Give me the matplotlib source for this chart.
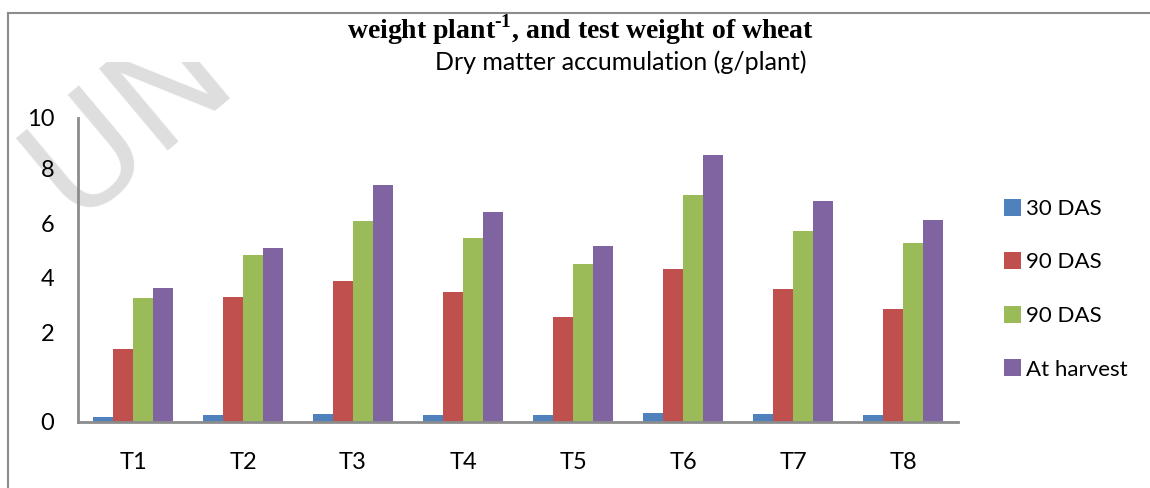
import numpy as np
import matplotlib
matplotlib.use("Agg")
import matplotlib.pyplot as plt
from matplotlib.lines import Line2D
from matplotlib.transforms import Bbox

treatments = ["T1", "T2", "T3", "T4", "T5", "T6", "T7", "T8"]
series_names = ["30 DAS", "90 DAS", "90 DAS", "At harvest"]
das30 = [0.16, 0.22, 0.25, 0.21, 0.21, 0.28, 0.25, 0.21]
das90a = [2.40, 4.10, 4.63, 4.27, 3.44, 5.02, 4.37, 3.71]
das90b = [4.07, 5.49, 6.61, 6.05, 5.19, 7.46, 6.28, 5.88]
harvest = [4.40, 5.72, 7.79, 6.90, 5.78, 8.78, 7.27, 6.64]
colors = ["#4F81BD", "#C0504D", "#9BBB59", "#8064A2"]

# y labels sit where they sit in the source image (not evenly spaced)
ytick_pos = [0.0, 2.92, 4.73, 6.51, 8.32, 10.0]
ytick_lab = ["0", "2", "4", "6", "8", "10"]

plt.rcParams["mathtext.fontset"] = "custom"
plt.rcParams["mathtext.rm"] = "Liberation Serif:bold"
plt.rcParams["mathtext.bf"] = "Liberation Serif:bold"

W, H = 1150, 488
fig = plt.figure(figsize=(W / 100, H / 100), dpi=100)
ax = fig.add_axes([78 / W, 1 - 421.5 / H, 880 / W, 303.5 / H])
ax.set_facecolor("none")

x = np.arange(len(treatments))
bw = 0.1818
allvals = [das30, das90a, das90b, harvest]
for i, vals in enumerate(allvals):
    ax.bar(x + (i - 1.5) * bw, vals, width=bw, color=colors[i], label=series_names[i], zorder=2)

ax.set_xlim(-0.5, len(treatments) - 0.5)
ax.set_ylim(0, 10)
ax.set_xticks(x)
ax.set_xticklabels(treatments, family="Lato", fontsize=17)
ax.set_yticks(ytick_pos)
ax.set_yticklabels(ytick_lab, family="Lato", fontsize=17)
ax.tick_params(axis="both", length=0)
ax.tick_params(axis="x", pad=22)
ax.tick_params(axis="y", pad=17)
for s in ["top", "right"]:
    ax.spines[s].set_visible(False)
for s in ["left", "bottom"]:
    ax.spines[s].set_color("#8c8c8c")
    ax.spines[s].set_linewidth(2)

leg = ax.legend(loc="upper left", bbox_to_anchor=(1.03, 0.80), frameon=False,
                prop={"family": "Lato", "size": 16}, handlelength=0.75, handleheight=0.8,
                handletextpad=0.2, labelspacing=1.5)

fig.text(581 / W, 1 - 30 / H, r"weight plant$^{\text{-1}}$, and test weight of wheat",
         ha="center", va="center", family="Liberation Serif", weight="bold", fontsize=20)
fig.text(621 / W, 1 - 62 / H, "Dry matter accumulation (g/plant)",
         ha="center", va="center", family="Lato", fontsize=18)

# outer frame of the pasted figure
fig.add_artist(Line2D([8 / W, 8 / W], [0, 1 - 13 / H], color="#8c8c8c", lw=1.5))
fig.add_artist(Line2D([8 / W, 1], [1 - 13 / H, 1 - 13 / H], color="#8c8c8c", lw=1.5))

# faint watermark, cut off at the top
wm = fig.text(72 / W, 1 - 220 / H, "UN", family="DejaVu Sans", fontsize=106,
              color="#dedede", rotation=40, rotation_mode="anchor",
              ha="left", va="baseline", zorder=-1)
wm.set_clip_box(Bbox([[0, 0], [W, H - 62]]))
wm.set_clip_on(True)

fig.savefig("out.png", dpi=100)
